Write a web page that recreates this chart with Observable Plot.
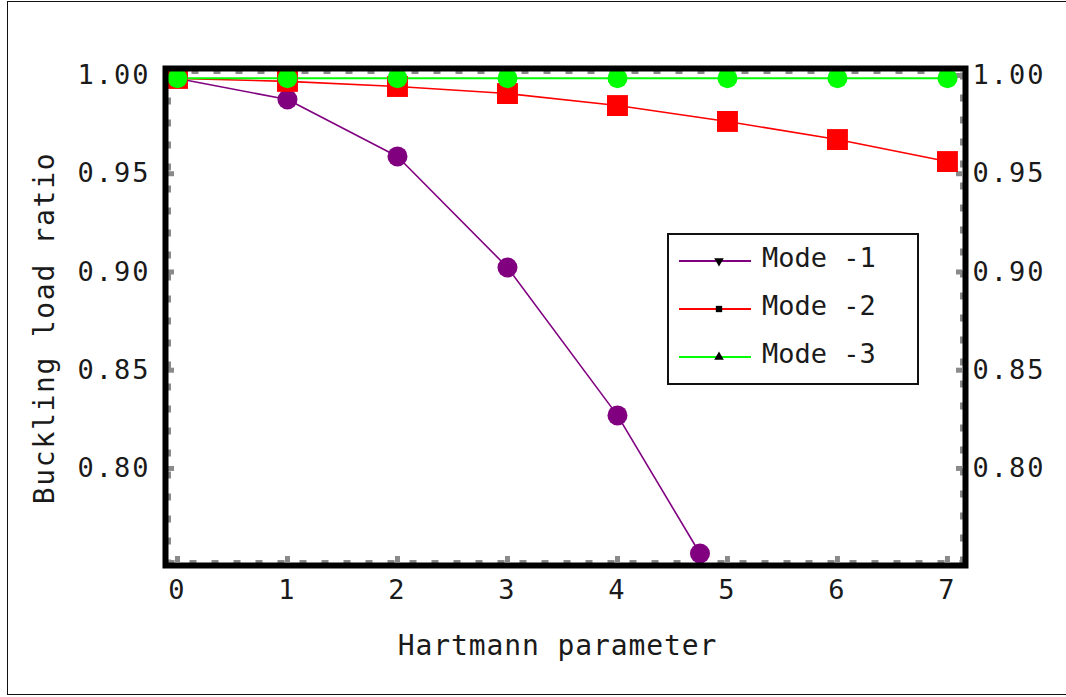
<!DOCTYPE html>
<html>
<head>
<meta charset="utf-8">
<script src="https://cdn.jsdelivr.net/npm/d3@7"></script>
<script src="https://cdn.jsdelivr.net/npm/@observablehq/plot@0.6"></script>
<style>
  html, body { margin: 0; padding: 0; background: #fff; }
  #wrap { position: relative; width: 1066px; height: 697px; overflow: hidden; }
  #border { position: absolute; left: 7px; top: 1px; width: 1070px; height: 694px; border: 1.5px solid #111; box-sizing: border-box; }
  #chart { position: absolute; left: 0; top: 0; }
  #legend { position: absolute; left: 667px; top: 233px; width: 252px; height: 152px; border: 2px solid #111; box-sizing: border-box; background: #fff; }
  #legend svg { position: absolute; left: 0; top: 0; }
  .lt { position: absolute; left: 93px; font-family: "DejaVu Sans Mono", monospace; font-size: 27px; letter-spacing: 0px; color: #1a1a1a; line-height: 1; }
</style>
</head>
<body>
<div id="wrap">
  <div id="border"></div>
  <div id="chart"></div>
  <div id="legend"></div>
</div>
<script>
const series = ["Mode -1", "Mode -2", "Mode -3"];
const colors = ["#800080", "#ff0000", "#00ff00"];
const x1 = [0, 1, 2, 3, 4, 4.75];
const mode1 = [0.9985, 0.9878, 0.9588, 0.9023, 0.827, 0.7567];
const x2 = [0, 1, 2, 3, 4, 5, 6, 7];
const mode2 = [0.9985, 0.997, 0.9944, 0.9908, 0.9847, 0.9766, 0.9674, 0.9562];
const x3 = [0, 1, 2, 3, 4, 5, 6, 7];
const mode3 = [0.9986, 0.9986, 0.9986, 0.9986, 0.9986, 0.9986, 0.9986, 0.9986];
const xTicks = [0, 1, 2, 3, 4, 5, 6, 7];
const yTicks = [0.80, 0.85, 0.90, 0.95, 1.00];
const xLabel = "Hartmann parameter";
const yLabel = "Buckling load ratio";

const data1 = x1.map((x, i) => ({x, y: mode1[i]}));
const data2 = x2.map((x, i) => ({x, y: mode2[i]}));
const data3 = x3.map((x, i) => ({x, y: mode3[i]}));

const font = "DejaVu Sans Mono, monospace";
const W = 1066, H = 697, mL = 165, mR = 101, mT = 68, mB = 132;
const innerW = W - mL - mR, innerH = H - mT - mB;

const chart = Plot.plot({
  width: W, height: H,
  marginLeft: mL, marginRight: mR, marginTop: mT, marginBottom: mB,
  style: {fontFamily: font, fontSize: "27px", color: "#1a1a1a", background: "transparent", letterSpacing: "2px"},
  x: {domain: [-0.109, 7.164]},
  y: {domain: [0.7506, 1.00356]},
  marks: [
    Plot.frame({stroke: "#8a8a8a", strokeWidth: 3, strokeDasharray: "7,15", inset: 4}),
    Plot.tickY(yTicks, {y: d => d, stroke: "#8a8a8a", strokeWidth: 5, insetLeft: 3, insetRight: innerW - 9}),
    Plot.tickY(yTicks, {y: d => d, stroke: "#8a8a8a", strokeWidth: 5, insetLeft: innerW - 9, insetRight: 3}),
    Plot.tickX(xTicks, {x: d => d, stroke: "#8a8a8a", strokeWidth: 5, insetTop: innerH - 9, insetBottom: 3}),
    Plot.tickX(xTicks, {x: d => d, stroke: "#8a8a8a", strokeWidth: 5, insetTop: 3, insetBottom: innerH - 9}),
    Plot.line(data1, {x: "x", y: "y", stroke: colors[0], strokeWidth: 1.6}),
    Plot.line(data2, {x: "x", y: "y", stroke: colors[1], strokeWidth: 1.6}),
    Plot.line(data3, {x: "x", y: "y", stroke: colors[2], strokeWidth: 2.2}),
    Plot.dot(data1, {x: "x", y: "y", r: 10, fill: colors[0], symbol: "circle"}),
    Plot.dot(data2, {x: "x", y: "y", r: 11.8, fill: colors[1], symbol: "square"}),
    Plot.dot(data3, {x: "x", y: "y", r: 10, fill: colors[2], symbol: "circle"}),
    Plot.frame({stroke: "#000", strokeWidth: 6}),
    Plot.axisX(xTicks, {tickSize: 0, tickPadding: 14, tickFormat: d => String(d), label: null, fontSize: 27, fontFamily: font}),
    Plot.axisY(yTicks, {anchor: "left", tickSize: 0, tickPadding: 15, tickFormat: d3.format(".2f"), label: null, fontSize: 27, fontFamily: font}),
    Plot.axisY(yTicks, {anchor: "right", tickSize: 0, tickPadding: 7, tickFormat: d3.format(".2f"), label: null, fontSize: 27, fontFamily: font}),
    Plot.text([xLabel], {frameAnchor: "bottom", textAnchor: "middle", dx: -8, dy: 89, fontSize: 28, fontFamily: font, fill: "#1a1a1a"}),
    Plot.text([yLabel], {frameAnchor: "left", textAnchor: "middle", rotate: -90, dx: -120, dy: 11, fontSize: 28, fontFamily: font, fill: "#1a1a1a"})
  ]
});
document.getElementById("chart").appendChild(chart);
d3.select(chart).selectAll("text").filter(function() { return this.textContent === xLabel; }).attr("letter-spacing", "0.9px");
d3.select(chart).selectAll("text").filter(function() { return this.textContent === yLabel; }).attr("letter-spacing", "1.7px");

const leg = d3.select("#legend");
const ls = leg.append("svg").attr("width", 250).attr("height", 150);
const rowsY = [26, 74, 122];
const symbols = [d3.symbolTriangle, d3.symbolSquare, d3.symbolTriangle];
const rot = [180, 0, 0];
series.forEach((name, i) => {
  ls.append("line").attr("x1", 10).attr("x2", 82).attr("y1", rowsY[i]).attr("y2", rowsY[i])
    .attr("stroke", colors[i]).attr("stroke-width", 2);
  ls.append("path").attr("d", d3.symbol(symbols[i], 40)())
    .attr("transform", `translate(50,${rowsY[i]}) rotate(${rot[i]})`).attr("fill", "#000");
  leg.append("div").attr("class", "lt").style("top", (rowsY[i] - 17) + "px").text(name);
});
</script>
</body>
</html>
